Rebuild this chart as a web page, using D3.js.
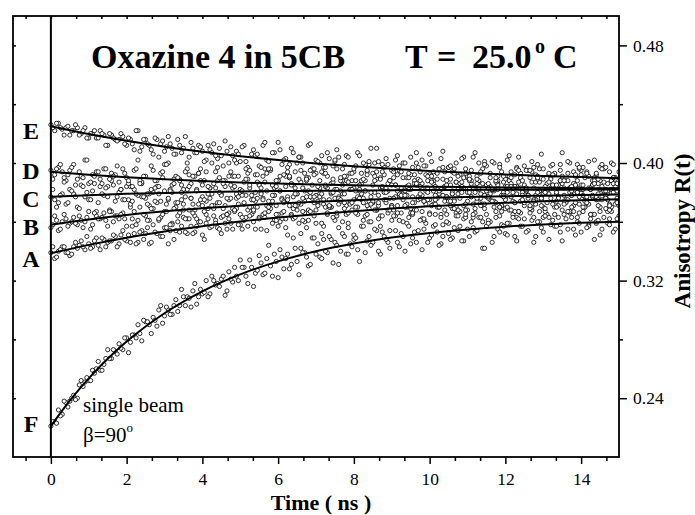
<!DOCTYPE html>
<html><head><meta charset="utf-8">
<script src="https://cdn.jsdelivr.net/npm/d3@7"></script>
<style>body{margin:0;background:#fff}svg{display:block}</style>
</head><body><svg id="c" width="695" height="515"></svg>
<script>
// ---- data ----
const timeStep = 0.1;      // ns between samples of one sweep
const sampleCount = 151;   // sweep 1: t = 0 ... 15 ns
const sampleCount2 = 150;  // sweep 2: t = 0.05 ... 14.95 ns
// measured anisotropy R(t), in units of 0.001
const dataA = [339,335,340,343,339,337,343,342,347,341,345,343,349,341,348,346,347,350,345,354,347,346,352,346,354,352,345,358,352,350,356,345,359,354,353,363,352,357,353,360,351,359,356,364,356,352,359,362,355,369,358,361,357,365,355,363,365,354,369,361,357,366,356,371,362,368,352,374,361,366,359,379,357,365,370,361,377,360,365,373,351,370,375,364,360,373,368,357,381,366,371,364,378,360,370,366,368,376,362,372,366,381,370,365,374,359,379,370,376,362,368,386,366,374,372,365,379,370,382,358,376,368,374,384,366,371,378,361,375,381,370,373,390,365,377,368,374,383,371,363,380,377,358,385,375,370,379,367,388,372,373];
const dataB = [356,364,354,360,362,359,363,358,361,360,367,358,364,362,366,357,367,364,362,366,357,370,367,361,377,364,361,369,373,363,367,375,358,370,366,372,362,376,368,372,371,365,376,369,373,363,371,375,369,379,365,372,368,378,374,362,376,371,372,378,365,376,362,390,369,379,372,360,381,376,368,388,372,366,379,376,356,385,371,382,375,365,379,388,369,373,394,364,375,381,371,385,361,379,378,369,388,375,367,383,392,372,378,363,384,375,381,366,392,371,380,377,369,387,360,381,384,374,386,371,375,390,365,379,383,373,395,368,378,381,363,386,376,384,371,389,374,380,367,383,392,377,372,388,359,382,378,386,370,390,376];
const dataC = [377,375,373,379,372,382,379,370,385,377,375,381,367,384,378,377,388,374,380,375,384,372,382,378,386,376,371,380,384,374,399,376,380,373,389,368,382,386,364,393,377,374,383,371,388,379,384,366,391,376,382,373,397,370,380,386,375,393,373,378,388,362,384,390,377,371,387,381,368,395,378,383,375,391,370,382,376,379,388,372,383,376,393,381,374,385,368,390,380,386,370,377,398,375,384,382,373,389,378,392,365,386,376,382,394,374,379,387,367,383,390,377,380,400,371,385,375,381,391,378,369,388,384,363,393,382,376,387,372,396,379,379,389,370,383,391,375,366,386,380,395,374,383,377,392,367,387,379,382,390,371];
const dataD = [395,392,397,394,388,395,399,389,391,402,386,392,394,389,396,384,393,392,387,396,390,384,395,402,387,391,379,395,388,393,381,400,385,391,388,382,396,376,391,393,385,394,383,386,397,378,388,391,383,400,380,387,389,375,392,385,391,381,395,383,388,375,391,399,385,379,395,366,390,385,393,377,397,383,380,401,372,388,391,382,394,377,386,381,399,374,389,383,392,368,395,385,379,390,372,392,386,377,402,381,375,388,393,378,384,397,369,387,381,390,374,395,383,388,386,377,393,382,388,371,384,391,380,397,374,385,378,394,387,367,389,381,383,392,376,386,373,400,379,388,382,370,391,385,377,397,381,375,388,384,364];
const dataE = [426,422,427,423,424,419,422,424,420,424,417,420,417,422,419,412,419,416,416,418,412,416,409,422,411,416,412,406,416,413,408,418,410,406,412,410,400,414,407,412,408,402,409,413,403,405,415,400,405,408,401,412,393,406,405,398,412,402,396,407,414,399,403,391,407,400,404,393,412,396,402,400,393,407,386,402,404,396,405,393,396,407,388,399,401,393,410,389,397,399,385,402,395,400,390,404,392,397,386,398,406,394,389,403,377,397,394,400,386,404,391,388,407,382,396,398,390,400,385,394,389,405,383,396,390,398,378,401,392,387,396,381,398,393,385,407,388,383,394,399,385,390,401,378,393,388,396,381,400,389,394];
const dataF = [221,224,232,229,237,238,242,240,252,251,252,259,260,259,263,273,267,272,277,273,281,278,283,290,279,292,290,295,289,303,296,300,297,307,303,309,309,302,318,309,311,320,311,320,318,321,310,326,319,323,334,329,318,329,325,337,324,335,330,338,322,336,335,328,349,333,342,339,330,349,338,336,348,339,348,346,331,352,338,345,348,341,357,339,350,346,354,338,350,346,361,354,343,350,359,345,353,354,341,359,349,357,353,345,368,352,349,364,357,347,355,360,353,363,342,357,360,350,355,367,352,359,363,347,357,362,354,370,350,360,353,365,358,357,363,347,362,367,355,360,353,370,357,365,360,351,363,359,367,355,362];
// second sweep (interleaved samples)
const dataA2 = [343,336,341,343,339,338,346,344,343,350,342,347,344,349,343,347,351,343,351,348,351,357,345,353,348,356,346,353,361,350,356,354,348,360,357,353,362,352,357,360,348,362,357,361,355,364,355,359,367,358,355,363,364,360,370,355,363,367,359,365,360,374,351,365,371,359,367,356,377,364,372,352,370,375,363,364,374,369,356,373,366,381,361,371,360,368,378,364,373,354,376,371,366,381,363,373,368,384,361,375,371,365,379,358,377,371,375,364,383,368,388,363,374,371,378,361,382,373,370,380,359,377,384,367,375,381,370,363,380,377,367,387,372,379,358,383,375,370,384,366,378,375,362,390,371,377,382,368,380,374];
const dataB2 = [358,361,355,365,357,360,359,364,356,363,355,366,362,363,361,368,360,364,365,362,375,362,358,370,365,361,369,374,362,365,372,358,369,364,380,362,368,372,362,375,367,369,379,359,373,369,365,376,368,372,363,378,370,367,376,380,366,370,374,361,381,367,377,364,383,373,361,390,367,377,371,359,384,370,380,366,388,373,359,382,370,376,389,365,372,380,362,383,375,368,394,366,378,370,382,365,385,376,362,380,388,372,370,378,360,389,374,368,384,372,380,365,391,376,369,383,374,387,364,378,370,394,373,367,382,381,369,375,391,371,380,363,385,374,388,378,367,384,373,396,370,377,382,365,386,375,381,362,390,373];
const dataC2 = [382,370,378,387,373,381,377,369,384,380,375,386,373,379,383,367,385,377,382,375,386,374,379,388,377,372,382,383,379,390,367,382,389,373,385,377,392,366,382,388,375,384,371,394,380,388,365,385,391,377,378,389,383,368,387,379,396,374,385,371,381,392,375,386,363,389,383,377,395,373,384,379,397,370,387,382,375,391,366,388,381,385,373,394,377,400,371,384,380,388,368,392,382,378,390,366,386,394,374,383,391,378,370,389,385,374,396,379,387,363,391,383,376,393,372,386,382,367,399,377,384,390,373,387,380,395,371,383,389,375,369,392,385,380,399,374,388,378,391,372,382,394,365,388,379,384,397,372,386,376];
const dataD2 = [389,396,399,390,392,397,385,394,390,402,387,391,394,386,396,389,391,398,382,393,388,384,396,386,391,379,398,388,384,394,399,381,386,390,375,394,384,391,381,396,388,379,400,383,390,386,376,394,384,391,381,396,385,375,392,383,387,396,378,384,391,373,394,385,379,404,376,388,380,392,374,394,385,371,389,396,381,379,387,368,398,382,376,392,380,388,373,399,383,376,390,381,394,371,385,377,400,379,374,388,387,375,381,397,377,385,369,391,380,393,383,372,389,379,401,376,382,388,370,391,380,386,367,395,378,383,390,374,399,376,384,379,392,370,388,365,393,381,385,377,397,373,383,386,375,399,378,371,390,381];
const dataE2 = [424,427,424,419,425,422,426,419,422,417,420,422,417,420,412,420,417,415,420,413,417,413,422,408,416,413,409,417,404,415,411,413,406,416,407,418,404,410,407,411,401,412,407,405,410,398,408,411,402,406,411,401,395,409,406,397,414,401,407,388,409,402,397,410,394,404,400,389,413,396,401,405,393,403,398,409,390,399,404,393,388,405,400,395,410,391,401,394,403,388,396,405,383,400,393,397,407,388,398,391,401,384,396,408,388,398,393,382,403,396,389,404,386,394,399,377,401,390,397,387,402,384,392,404,388,382,395,397,390,406,380,393,399,385,395,388,401,378,392,397,385,393,382,402,389,396,376,394,399,386];
const dataF2 = [224,223,228,238,234,240,239,249,248,254,252,257,265,259,267,267,273,270,274,281,271,283,281,284,293,292,284,293,300,291,302,297,303,299,314,303,308,313,304,314,312,309,323,317,316,323,313,321,329,320,329,323,334,316,327,332,325,344,323,333,341,328,338,331,342,324,339,336,331,349,345,335,340,350,332,344,340,350,338,343,349,333,357,347,344,355,340,353,348,342,364,346,352,340,357,349,346,361,355,346,351,358,344,350,365,348,356,354,347,365,350,356,354,363,342,359,346,363,353,357,351,368,350,362,357,353,366,346,360,356,364,348,361,357,353,372,355,363,351,359,367,356,365,348,361,355,369,358,353,362];

// fitted curves (R values) at fit times (ns)
const fitTimes  = [0,1,2,3,4,5,6,7,8,9,10,11,12,13,14,15];
const fitTimesF = [0,0.5,1,1.5,2,3,4,5,6,7,8,9,10,11,12,13,14,15];
const fitA = [.3386,.3443,.3492,.3534,.3570,.3602,.3629,.3652,.3672,.3690,.3705,.3718,.3729,.3739,.3747,.3754];
const fitB = [.3580,.3616,.3646,.3671,.3692,.3710,.3725,.3737,.3747,.3756,.3763,.3769,.3774,.3778,.3782,.3785];
const fitC = [.3770,.3781,.3790,.3796,.3802,.3806,.3809,.3811,.3813,.3815,.3816,.3817,.3818,.3818,.3819,.3819];
const fitD = [.3940,.3920,.3903,.3890,.3878,.3868,.3860,.3854,.3848,.3843,.3839,.3836,.3834,.3831,.3829,.3828];
const fitE = [.4250,.4197,.4151,.4111,.4076,.4046,.4020,.3997,.3978,.3961,.3946,.3933,.3922,.3912,.3904,.3897];
const fitF = [.2210,.2383,.2535,.2668,.2785,.2978,.3127,.3242,.3331,.3399,.3452,.3493,.3524,.3548,.3567,.3581,.3593,.3601];

const curveLabels = ["E","D","C","B","A","F"];
const curveLabelR = [0.4165,0.3888,0.3698,0.3508,0.3291,0.2167];

const xMajorTicks = [0,2,4,6,8,10,12,14];
const xMinorTicks = [-0.667,0.667,1.333,2.667,3.333,4.667,5.333,6.667,7.333,8.667,9.333,10.667,11.333,12.667,13.333,14.667];
const yMajorTicks = [0.24,0.32,0.40,0.48];
const yMinorTicks = [0.28,0.36,0.44];
const yLeftTicks  = [0.24,0.28,0.32,0.36,0.40,0.44,0.48];

// ---- drawing ----
const FONT = "'Times New Roman','Liberation Serif',serif";
const svg = d3.select("#c");
const L = 13, R = 619, T = 16, B = 457;
const x = d3.scaleLinear().domain([-1, 15]).range([L, R]);
const y = d3.scaleLinear().domain([0.20, 0.50]).range([B, T]);
const times  = d3.range(sampleCount).map(i => i * timeStep);
const times2 = d3.range(sampleCount2).map(i => i * timeStep + timeStep / 2);

svg.append("defs").append("clipPath").attr("id","clip")
  .append("rect").attr("x",L).attr("y",T).attr("width",R-L).attr("height",B-T);

const plot = svg.append("g").attr("clip-path","url(#clip)");
const sweeps = [
  [times, [dataA, dataB, dataC, dataD, dataE, dataF]],
  [times2, [dataA2, dataB2, dataC2, dataD2, dataE2, dataF2]]
];
sweeps.forEach(([ts, sets]) => sets.forEach(arr => {
  plot.append("g").selectAll("circle").data(arr).join("circle")
    .attr("cx", (d,i) => x(ts[i]))
    .attr("cy", d => y(d / 1000))
    .attr("r", 2.1)
    .attr("fill", "#fff")
    .attr("stroke", "#000")
    .attr("stroke-width", 0.8);
}));

const line = d3.line().curve(d3.curveMonotoneX);
[[fitTimes,fitA],[fitTimes,fitB],[fitTimes,fitC],[fitTimes,fitD],[fitTimes,fitE],[fitTimesF,fitF]].forEach(([ts, vs]) => {
  plot.append("path")
    .attr("d", line(ts.map((t,i) => [x(t), y(vs[i])])))
    .attr("fill","none").attr("stroke","#000").attr("stroke-width",2);
});

// vertical line at t = 0
svg.append("line").attr("x1",x(0)).attr("x2",x(0)).attr("y1",T).attr("y2",B)
  .attr("stroke","#000").attr("stroke-width",2);

// axes
function styleAxis(g){ g.select(".domain").remove(); g.selectAll("line").attr("stroke","#000").attr("stroke-width",1.5);
  g.selectAll("text").attr("font-family",FONT).attr("font-size",17.5).attr("fill","#000"); }

svg.append("g").attr("transform",`translate(0,${B})`)
  .call(d3.axisBottom(x).tickValues(xMajorTicks).tickSize(7).tickPadding(9).tickFormat(d3.format("d"))).call(styleAxis);
svg.append("g").attr("transform",`translate(0,${B})`)
  .call(d3.axisBottom(x).tickValues(xMinorTicks).tickSize(4).tickFormat("")).call(styleAxis);
svg.append("g").attr("transform",`translate(0,${T})`)
  .call(d3.axisBottom(x).tickValues(xMajorTicks.concat(xMinorTicks)).tickSize(3).tickFormat("")).call(styleAxis);

svg.append("g").attr("transform",`translate(${R},0)`)
  .call(d3.axisRight(y).tickValues(yMajorTicks).tickSize(8).tickPadding(6).tickFormat(d3.format(".2f"))).call(styleAxis);
svg.append("g").attr("transform",`translate(${R},0)`)
  .call(d3.axisRight(y).tickValues(yMinorTicks).tickSize(4).tickFormat("")).call(styleAxis);
svg.append("g").attr("transform",`translate(${L},0)`)
  .call(d3.axisRight(y).tickValues(yLeftTicks).tickSize(3).tickFormat("")).call(styleAxis);

// frame
svg.append("rect").attr("x",L).attr("y",T).attr("width",R-L).attr("height",B-T)
  .attr("fill","none").attr("stroke","#000").attr("stroke-width",1.8);

// axis titles
svg.append("text").attr("x",321).attr("y",510).attr("text-anchor","middle")
  .attr("font-family",FONT).attr("font-weight","bold").attr("font-size",22).text("Time ( ns )");
svg.append("text").attr("transform","translate(690,231) rotate(-90)").attr("text-anchor","middle")
  .attr("font-family",FONT).attr("font-weight","bold").attr("font-size",23).text("Anisotropy R(t)");

// title
svg.append("text").attr("x",91).attr("y",68)
  .attr("font-family",FONT).attr("font-weight","bold").attr("font-size",34).text("Oxazine 4 in 5CB");
const tt = svg.append("text").attr("y",68)
  .attr("font-family",FONT).attr("font-weight","bold").attr("font-size",34);
tt.append("tspan").attr("x",405).text("T");
tt.append("tspan").attr("x",437).text("=");
tt.append("tspan").attr("x",472).text("25.0");
tt.append("tspan").attr("x",535).attr("font-size",20).attr("dy",-15).text("o");
tt.append("tspan").attr("x",553).attr("dy",15).text("C");

// curve letters
svg.append("g").selectAll("text").data(curveLabels).join("text")
  .attr("x",31).attr("y",(d,i)=>y(curveLabelR[i])).attr("text-anchor","middle")
  .attr("font-family",FONT).attr("font-weight","bold").attr("font-size",24).text(d=>d);

// annotation
svg.append("text").attr("x",83).attr("y",412).attr("font-family",FONT).attr("font-size",21).text("single beam");
const bt = svg.append("text").attr("x",83).attr("y",442).attr("font-family",FONT).attr("font-size",21);
bt.append("tspan").text("β=90");
bt.append("tspan").attr("font-size",13).attr("dy",-10).text("o");
</script></body></html>
